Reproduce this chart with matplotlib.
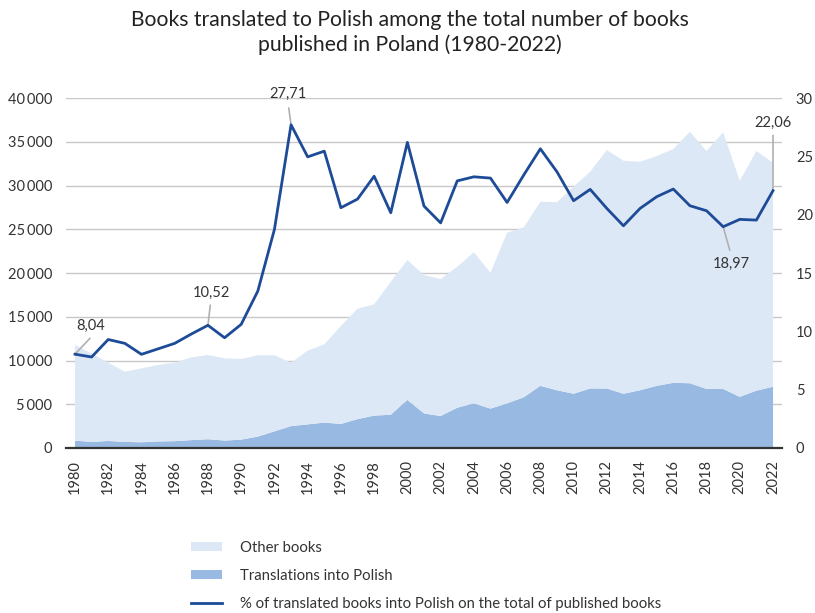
import matplotlib
matplotlib.use("Agg")
import matplotlib.pyplot as plt
from matplotlib.patches import Patch
from matplotlib.lines import Line2D
from matplotlib.ticker import FuncFormatter

plt.rcParams['font.family'] = ['Lato', 'DejaVu Sans']

years = list(range(1980, 2023))

# translations into Polish (number of titles)
translations = [840, 700, 800, 700, 650, 750, 780, 900, 1000, 850,
                950, 1300, 1900, 2500, 2700, 2900, 2750, 3300, 3700, 3800,
                5500, 3950, 3650, 4600, 5100, 4500, 5100, 5800, 7100, 6600,
                6200, 6800, 6800, 6200, 6600, 7100, 7450, 7400, 6750, 6750,
                5850, 6550, 7000]

# all books published
total = [11770, 10820, 9750, 8720, 9100, 9490, 9750, 10360, 10630, 10250,
         10170, 10600, 10600, 9750, 11120, 11850, 13940, 15920, 16420, 19000,
         21490, 19770, 19320, 20720, 22370, 20040, 24610, 25220, 28150, 28100,
         29870, 31580, 34060, 32840, 32720, 33370, 34170, 36150, 33950, 36080,
         30550, 33950, 32610]

other = [t - tr for t, tr in zip(total, translations)]

# share of translations (%)
share = [8.04, 7.8, 9.3, 8.97, 8.03, 8.5, 8.97, 9.77, 10.52, 9.45,
         10.6, 13.45, 18.74, 27.71, 24.96, 25.45, 20.6, 21.34, 23.3, 20.17,
         26.2, 20.74, 19.3, 22.9, 23.25, 23.14, 21.05, 23.4, 25.65, 23.68,
         21.2, 22.17, 20.54, 19.05, 20.54, 21.54, 22.2, 20.77, 20.34, 18.97,
         19.6, 19.54, 22.06]

light = '#dde8f6'
mid = '#98b9e1'
dark = '#1d4b97'
txt = '#333333'

fig = plt.figure(figsize=(8.15, 6.13), dpi=100)
ax = fig.add_axes([0.081, 0.2692, 0.8785, 0.5708])
ax2 = ax.twinx()

ax.stackplot(years, translations, other, colors=[mid, light], linewidth=0)
ax.set_xlim(1979.46, 2022.54)
ax.set_ylim(0, 40000)
ax.set_yticks(range(0, 40001, 5000))
ax.yaxis.set_major_formatter(FuncFormatter(lambda v, p: f"{int(v):,}".replace(",", "\u2009")))
ax.grid(axis='y', color='#c8c8c8', linewidth=1)
ax.set_axisbelow(True)
ax.set_xticks(years[::2])
ax.tick_params(axis='x', rotation=90, length=0, pad=9, labelsize=10.5, colors=txt)
ax.tick_params(axis='y', length=0, pad=10, labelsize=10.5, colors=txt)
for s in ['top', 'right', 'left']:
    ax.spines[s].set_visible(False)
ax.spines['bottom'].set_color('#333333')
ax.spines['bottom'].set_linewidth(1.6)
ax.spines['bottom'].set_zorder(5)

# value labels with leader lines: (year, value, leader end, label position)
notes = [(1980, 8.04, (1980.9, 9.4), (1980.95, 10.5)),
         (1988, 10.52, (1988.14, 12.25), (1988.2, 13.3)),
         (1993, 27.71, (1992.86, 29.15), (1992.8, 30.4)),
         (2019, 18.97, (2019.4, 16.95), (2019.5, 15.8)),
         (2022, 22.06, (2022.0, 26.8), (2021.97, 27.9))]
for x, v, end, pos in notes:
    ax2.annotate("", xy=(x, v), xytext=end, annotation_clip=False,
                 arrowprops=dict(arrowstyle='-', color='#b0b0b0', lw=1.2,
                                 shrinkA=0, shrinkB=0))
    ax2.text(pos[0], pos[1], f"{v:.2f}".replace(".", ","), ha='center', va='center',
             fontsize=10.5, color=txt, clip_on=False)

ax2.plot(years, share, color=dark, linewidth=2, zorder=3)
ax2.set_ylim(0, 30)
ax2.set_yticks(range(0, 31, 5))
ax2.tick_params(axis='y', length=0, pad=10, labelsize=10.5, colors=txt)
for s in ['top', 'right', 'left', 'bottom']:
    ax2.spines[s].set_visible(False)

fig.text(0.503, 0.947, "Books translated to Polish among the total number of books\npublished in Poland (1980-2022)",
         ha='center', va='center', fontsize=15.2, color='#222222', linespacing=1.3)

handles = [Patch(facecolor=light, edgecolor='none'),
           Patch(facecolor=mid, edgecolor='none'),
           Line2D([0], [0], color=dark, linewidth=2)]
labels = ["Other books", "Translations into Polish",
          "% of translated books into Polish on the total of published books"]
leg = fig.legend(handles, labels, loc='upper left', bbox_to_anchor=(0.218, 0.14),
                 frameon=False, fontsize=10.7, handlelength=2.1, handleheight=0.6,
                 labelspacing=0.95, handletextpad=1.2, labelcolor=txt)

fig.savefig("out.png", dpi=100)
